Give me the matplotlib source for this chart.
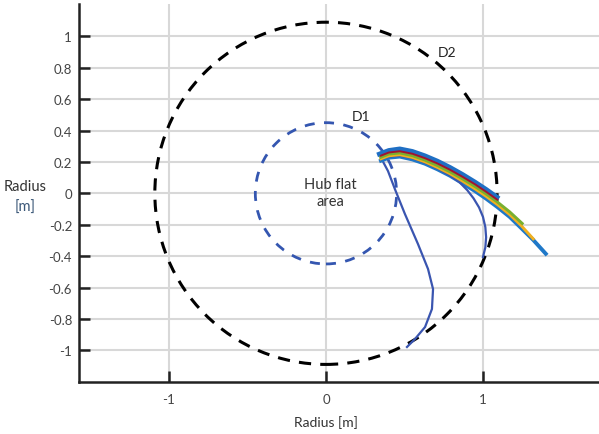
import matplotlib.pyplot as plt
from matplotlib.patches import Circle

plt.rcParams['font.family'] = ['Lato', 'DejaVu Sans']

# circle radii [m]
r_d1 = 0.45
r_d2 = 1.09

# blade trajectories (x, y in m)
blue_top_x = [0.34, 0.40, 0.47, 0.55, 0.63, 0.71, 0.79, 0.87, 0.95, 1.02, 1.09]
blue_top_y = [0.250, 0.273, 0.283, 0.267, 0.239, 0.205, 0.165, 0.120, 0.071, 0.025, -0.025]

red_x = [0.35, 0.40, 0.47, 0.55, 0.63, 0.71, 0.79, 0.87, 0.95, 1.02, 1.09]
red_y = [0.240, 0.260, 0.268, 0.252, 0.224, 0.190, 0.150, 0.105, 0.057, 0.010, -0.040]

green_x = [0.35, 0.40, 0.47, 0.55, 0.63, 0.71, 0.79, 0.87, 0.95, 1.02, 1.09, 1.17, 1.25]
green_y = [0.230, 0.250, 0.257, 0.240, 0.212, 0.177, 0.137, 0.092, 0.043, -0.004, -0.054, -0.118, -0.192]

orange_x = [0.35, 0.40, 0.47, 0.55, 0.63, 0.71, 0.79, 0.87, 0.95, 1.02, 1.09, 1.17, 1.24, 1.32]
orange_y = [0.220, 0.239, 0.246, 0.229, 0.201, 0.165, 0.125, 0.078, 0.028, -0.019, -0.070, -0.135, -0.202, -0.290]

blue_x = [0.35, 0.40, 0.47, 0.55, 0.63, 0.71, 0.79, 0.87, 0.95, 1.02, 1.09, 1.17, 1.24, 1.32, 1.40]
blue_y = [0.208, 0.227, 0.234, 0.216, 0.189, 0.153, 0.112, 0.064, 0.014, -0.034, -0.086, -0.150, -0.218, -0.297, -0.385]

branch_x = [0.35, 0.40, 0.47, 0.55, 0.63, 0.71, 0.79, 0.85, 0.90, 0.94, 0.975, 1.00, 1.015, 1.02, 1.015, 1.00]
branch_y = [0.216, 0.234, 0.240, 0.224, 0.196, 0.159, 0.114, 0.071, 0.020, -0.032, -0.090, -0.150, -0.215, -0.280, -0.345, -0.406]

s_curve_x = [0.344, 0.395, 0.439, 0.503, 0.586, 0.650, 0.682, 0.675, 0.631, 0.567, 0.516]
s_curve_y = [0.238, 0.142, 0.027, -0.132, -0.323, -0.482, -0.610, -0.737, -0.852, -0.928, -0.979]

y_ticks = [-1, -0.8, -0.6, -0.4, -0.2, 0, 0.2, 0.4, 0.6, 0.8, 1]
y_tick_labels = ['-1', '-0.8', '-0.6', '-0.4', '-0.2', '0', '0.2', '0.4', '0.6', '0.8', '1']
x_ticks = [-1, 0, 1]
x_tick_labels = ['-1', '0', '1']

fig = plt.figure(figsize=(5.99, 4.35), dpi=100)
ax = fig.add_axes([79 / 599, 52 / 435, 520 / 599, 378 / 435])

ax.set_xlim(-1.573, 1.739)
ax.set_ylim(-1.202, 1.206)

# dashed circles
ax.add_patch(Circle((0, 0), r_d2, fill=False, edgecolor='black', lw=2.2,
                    linestyle=(0, (4, 3)), zorder=3))
ax.add_patch(Circle((0, 0), r_d1, fill=False, edgecolor='#3456b0', lw=2.0,
                    linestyle=(0, (3.6, 3.4)), zorder=3))

ax.plot(s_curve_x, s_curve_y, color='#3a55b0', lw=1.6, zorder=4)
ax.plot(blue_top_x, blue_top_y, color='#1f6fc4', lw=3.4, zorder=4)
ax.plot(blue_x, blue_y, color='#1f78c8', lw=2.8, zorder=4)
ax.plot(branch_x, branch_y, color='#3a55b0', lw=1.6, zorder=5)
ax.plot(orange_x, orange_y, color='#f0b020', lw=2.1, zorder=5)
ax.plot(green_x, green_y, color='#78b030', lw=2.1, zorder=5)
ax.plot(red_x, red_y, color='#a2142f', lw=1.4, zorder=5)

ax.text(0.774, 0.90, 'D2', fontsize=10, color='#222222', ha='center', va='center')
ax.text(0.226, 0.492, 'D1', fontsize=10, color='#222222', ha='center', va='center')
ax.text(0.03, 0.005, 'Hub flat\narea', fontsize=10.5, color='#333333',
        ha='center', va='center', linespacing=1.3)

ax.set_xticks(x_ticks)
ax.set_xticklabels(x_tick_labels)
ax.set_yticks(y_ticks)
ax.set_yticklabels(y_tick_labels)
ax.tick_params(direction='in', length=8, width=1.8, color='#222222',
               labelsize=9.5, labelcolor='#444444')
ax.tick_params(axis='x', pad=8)
ax.tick_params(axis='y', pad=5)

ax.grid(True, color='#d8d8d8', lw=1.5)
ax.set_axisbelow(True)
for side in ['top', 'right']:
    ax.spines[side].set_visible(False)
for side in ['left', 'bottom']:
    ax.spines[side].set_linewidth(1.8)
    ax.spines[side].set_color('#222222')

fig.text(326 / 599, 1 - 423 / 435, 'Radius [m]', fontsize=10, color='#333333',
         ha='center', va='center')
fig.text(25 / 599, 1 - 187 / 435, 'Radius', fontsize=10.5, color='#333333',
         ha='center', va='center')
fig.text(25 / 599, 1 - 208 / 435, '[m]', fontsize=10.5, color='#3c5878',
         ha='center', va='center')

fig.savefig('out.png', dpi=100)
